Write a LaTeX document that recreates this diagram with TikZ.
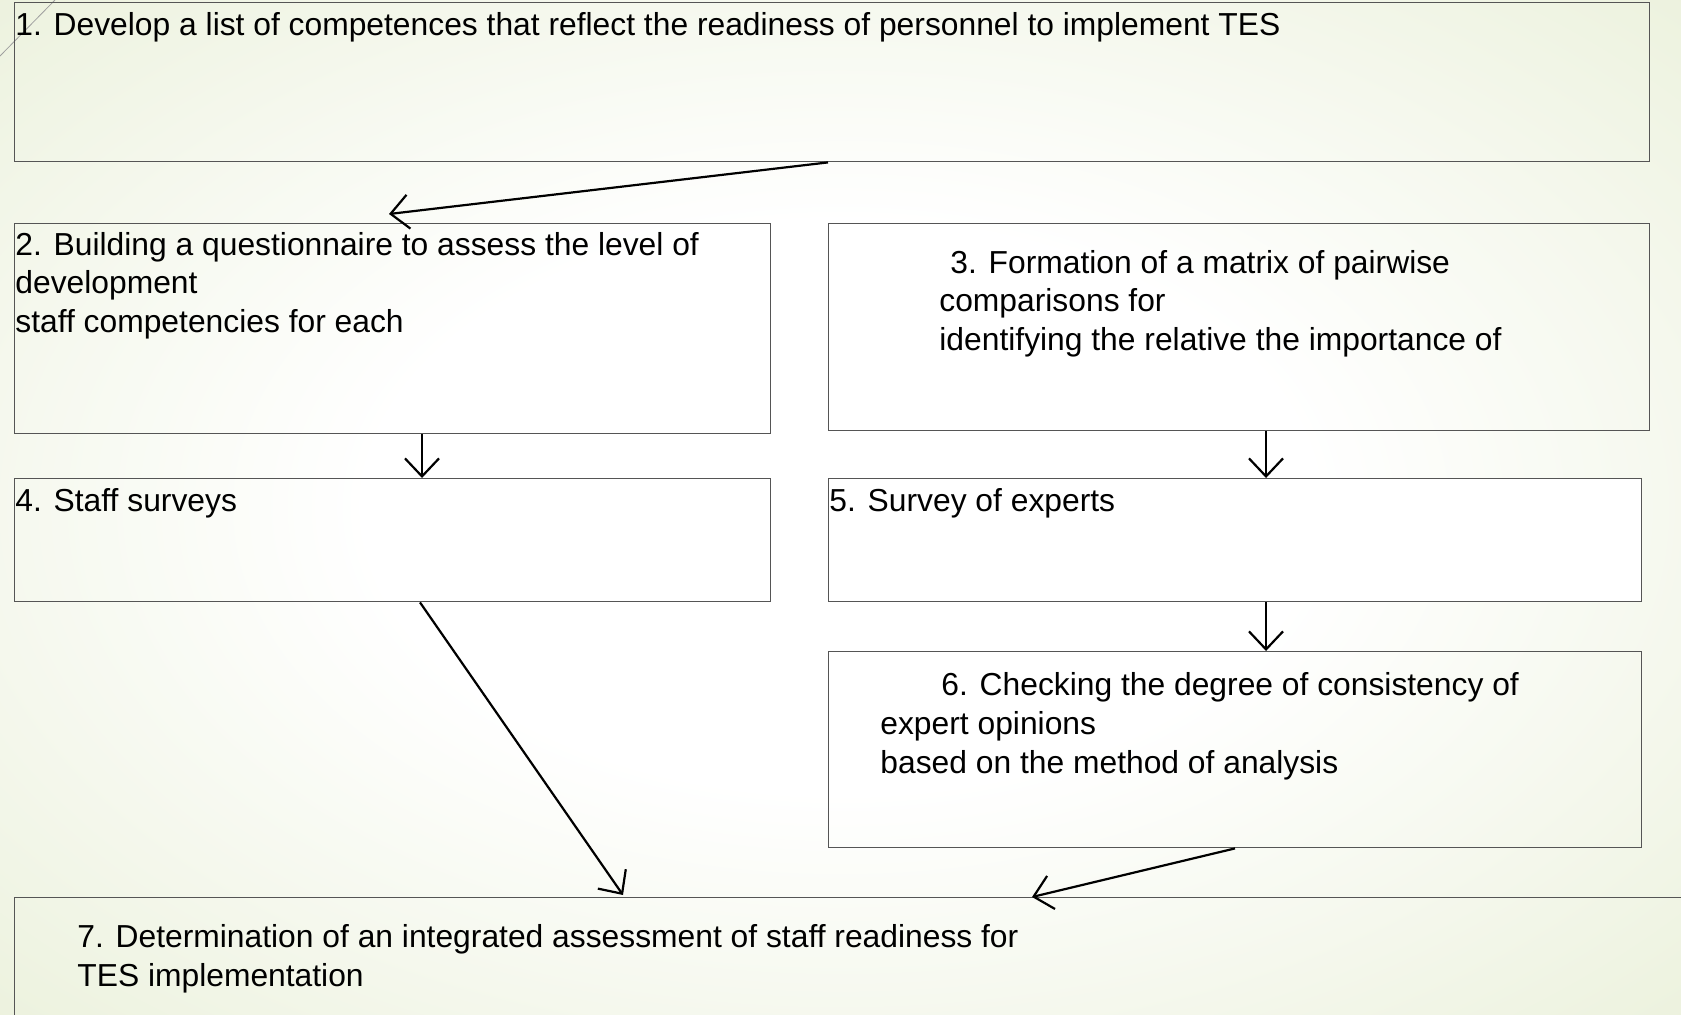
\documentclass[tikz,border=0pt]{standalone}
\usepackage{fontspec}
\setmainfont{Liberation Sans}
\usetikzlibrary{arrows.meta,calc}
\definecolor{slidegreen}{RGB}{224,233,200}
\definecolor{framegray}{RGB}{85,85,85}
\pgfdeclareradialshading{slideglow}{\pgfpoint{0bp}{0bp}}{color(0bp)=(white); color(14bp)=(white); color(50bp)=(slidegreen)}

\begin{document}
\begin{tikzpicture}[x=0.5pt, y=-0.5pt,
    box/.style={draw=framegray, line width=0.7pt, rectangle, inner sep=0pt, anchor=north west},
    txt/.style={anchor=base west, inner sep=0pt, align=left, font=\fontsize{15.9}{19.3}\selectfont},
    arr/.style={-{Straight Barb[length=9pt,width=17pt]}, line width=1.1pt}]

    % Slide background
    \useasboundingbox (0,0) rectangle (1681,1014);
    \shade[shading=slideglow] (0,0) rectangle (1681,1014);
    \clip (0,0) rectangle (1681,1014);
    \draw[gray!75, line width=0.4pt] (0,56) -- (55,0);

    % Boxes
    \node[box, minimum width=817.5pt, minimum height=79.5pt] (b1) at (14,2) {};
    \node[box, minimum width=378pt, minimum height=105pt] (b2) at (14,223) {};
    \node[box, minimum width=410.5pt, minimum height=103.5pt] (b3) at (828,223) {};
    \node[box, minimum width=378pt, minimum height=61.5pt] (b4) at (14,478) {};
    \node[box, fill=white, minimum width=406.5pt, minimum height=61.5pt] (b5) at (828,478) {};
    \node[box, minimum width=406.5pt, minimum height=98pt] (b6) at (828,651) {};
    \node[box, minimum width=850pt, minimum height=70pt] (b7) at (14,897) {};

    % Texts (placed at the baseline of their last line)
    \node[txt] (t1) at (15,35) {1. Develop a list of competences that reflect the readiness of personnel to implement TES};
    \node[txt] (t2) at (15,332.5) {2. Building a questionnaire to assess the level of\\development\\staff competencies for each};
    \node[txt] (t3) at (939,350.5) {\hspace*{5.5pt}3. Formation of a matrix of pairwise\\comparisons for\\identifying the relative the importance of};
    \node[txt] (t4) at (15,511.5) {4. Staff surveys};
    \node[txt] (t5) at (829,511.5) {5. Survey of experts};
    \node[txt] (t6) at (880,773) {\hspace*{30.5pt}6. Checking the degree of consistency of\\expert opinions\\based on the method of analysis};
    \node[txt] (t7) at (77,986) {7. Determination of an integrated assessment of staff readiness for\\TES implementation};

    % Arrows
    \draw[arr] ($(b1.south west)+(814,0)$) -- ($(b2.north west)+(375,-9)$);
    \draw[arr] ($(b2.south west)+(408,0)$) -- ($(b4.north west)+(408,0)$);
    \draw[arr] ($(b3.south west)+(438,0)$) -- ($(b5.north west)+(438,0)$);
    \draw[arr] ($(b5.south west)+(438,0)$) -- ($(b6.north west)+(438,0)$);
    \draw[arr] ($(b4.south west)+(406,0)$) -- ($(b7.north west)+(609,-2)$);
    \draw[arr] ($(b6.south west)+(407,0)$) -- ($(b7.north west)+(1018,0)$);

\end{tikzpicture}
\end{document}
